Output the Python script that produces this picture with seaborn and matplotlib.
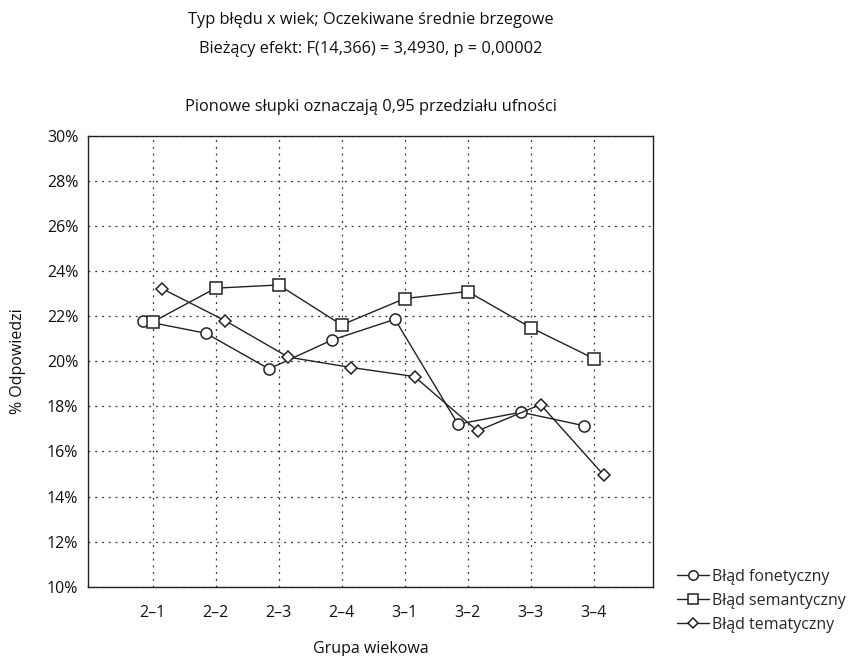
import pandas as pd
import matplotlib
matplotlib.use("Agg")
import matplotlib.pyplot as plt
import seaborn as sns
import numpy as np

# Data
groups = ["2–1", "2–2", "2–3", "2–4", "3–1", "3–2", "3–3", "3–4"]
fonetyczny = [21.79, 21.24, 19.66, 20.94, 21.86, 17.21, 17.74, 17.14]
semantyczny = [21.74, 23.24, 23.38, 21.61, 22.78, 23.09, 21.49, 20.12]
tematyczny = [23.21, 21.79, 20.18, 19.72, 19.32, 16.91, 18.08, 14.96]
series_names = ["Błąd fonetyczny", "Błąd semantyczny", "Błąd tematyczny"]

sns.set_theme(style="white")
plt.rcParams['font.family'] = ['Open Sans', 'DejaVu Sans']

df = pd.DataFrame({
    "grupa": groups * 3,
    "idx": list(range(len(groups))) * 3,
    "wartosc": fonetyczny + semantyczny + tematyczny,
    "typ": [series_names[0]] * 8 + [series_names[1]] * 8 + [series_names[2]] * 8,
})

fig = plt.figure(figsize=(8.49, 6.56), dpi=100)
ax = fig.add_axes([0.1037, 0.1055, 0.6655, 0.6877])

# horizontal dodge for each series, like the original
offsets = {series_names[0]: -0.155, series_names[1]: 0.0, series_names[2]: 0.155}
markers = {series_names[0]: "o", series_names[1]: "s", series_names[2]: "D"}
msizes = {series_names[0]: 8, series_names[1]: 8, series_names[2]: 6.3}
df["xpos"] = df["idx"] + df["typ"].map(offsets)

line_col = "#222222"
for name in series_names:
    sub = df[df["typ"] == name]
    sns.lineplot(data=sub, x="xpos", y="wartosc", ax=ax, color=line_col,
                 linewidth=1.0, marker=markers[name], markersize=msizes[name],
                 markerfacecolor="white", markeredgecolor=line_col,
                 markeredgewidth=1.1, label=name, zorder=3)

ax.set_xlim(-1.025, 7.94)
ax.set_ylim(10, 30)
ax.set_xticks(range(len(groups)))
ax.set_xticklabels(groups, fontsize=11.5)
yt = np.arange(10, 31, 2)
ax.set_yticks(yt)
ax.set_yticklabels([f"{v}%" for v in yt], fontsize=11.5)
ax.tick_params(axis="x", length=0, pad=13, colors="#111111")
ax.tick_params(axis="y", length=0, pad=7, colors="#111111")

ax.grid(True, color="#333333", linestyle=(0, (1.5, 3.9)), linewidth=0.9)
for s in ax.spines.values():
    s.set_color("#222222")
    s.set_linewidth(1.0)

ax.set_xlabel("Grupa wiekowa", fontsize=11.5, color="#111111")
ax.set_ylabel("% Odpowiedzi", fontsize=11.5, color="#111111")
ax.xaxis.set_label_coords(0.5, -0.12)
ax.yaxis.set_label_coords(-0.11, 0.5)

title_x = 0.4364
fig.text(title_x, 0.970, "Typ błędu x wiek; Oczekiwane średnie brzegowe",
         ha="center", va="center", fontsize=11.8, color="#111111")
fig.text(title_x, 0.925, "Bieżący efekt: F(14,366) = 3,4930, p = 0,00002",
         ha="center", va="center", fontsize=11.8, color="#111111")
fig.text(title_x, 0.837, "Pionowe słupki oznaczają 0,95 przedziału ufności",
         ha="center", va="center", fontsize=11.8, color="#111111")

handles, labels = ax.get_legend_handles_labels()
ax.legend(handles, labels, loc="upper left", bbox_to_anchor=(0.797, 0.133),
          bbox_transform=fig.transFigure, frameon=False, fontsize=11.5,
          handlelength=2.0, handletextpad=0.2, labelspacing=0.5,
          borderaxespad=0, borderpad=0, markerscale=0.85)

fig.savefig("out.png", dpi=100, facecolor="white")
